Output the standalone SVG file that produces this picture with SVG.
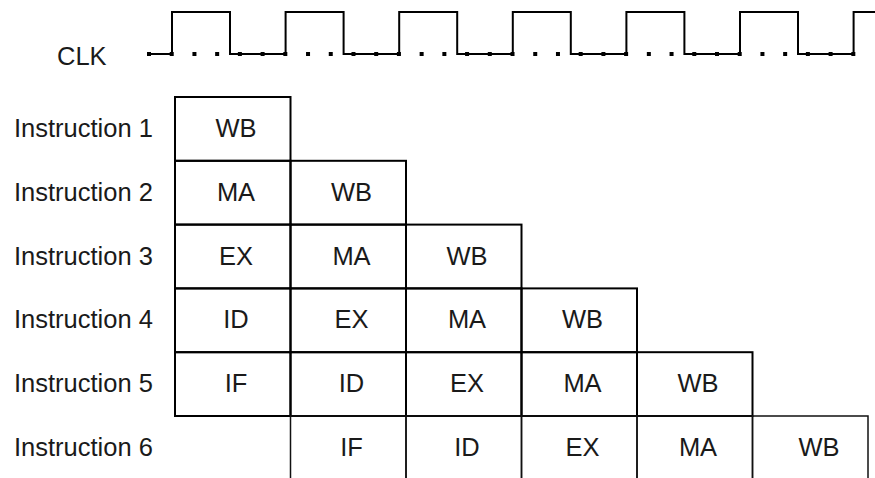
<svg xmlns="http://www.w3.org/2000/svg" width="875" height="478" viewBox="0 0 875 478">
<style>
text{font-family:"Liberation Sans",Arial,sans-serif;font-size:25.5px;fill:#1a1a1a}
.c{text-anchor:middle}
.cell{fill:none;stroke:#000;stroke-width:2}
.open{fill:none;stroke:#111;stroke-width:1.5}
.clk{fill:none;stroke:#000;stroke-width:2}
</style>
<rect width="875" height="478" fill="#fff"/>
<g id="clock">
<text x="57" y="65">CLK</text>
<line x1="147" y1="54" x2="856" y2="54" stroke="#000" stroke-width="4" stroke-dasharray="4 18.72"/>
<path class="clk" d="M149,54H172V12H230V54H285.6V12H343.6V54H399.2V12H457.2V54H512.8V12H570.8V54H626.4V12H684.4V54H740V12H798V54H853.6V12H876"/>
</g>
<g id="instr1">
<text x="14" y="137">Instruction 1</text>
<rect class="cell" x="175" y="97" width="115.5" height="63.8"/>
<text class="c" x="236" y="137">WB</text>
</g>
<g id="instr2">
<text x="14" y="200.8">Instruction 2</text>
<rect class="cell" x="175" y="160.8" width="115.5" height="63.8"/>
<rect class="cell" x="290.5" y="160.8" width="115.5" height="63.8"/>
<text class="c" x="236" y="200.8">MA</text>
<text class="c" x="351.5" y="200.8">WB</text>
</g>
<g id="instr3">
<text x="14" y="264.6">Instruction 3</text>
<rect class="cell" x="175" y="224.6" width="115.5" height="63.8"/>
<rect class="cell" x="290.5" y="224.6" width="115.5" height="63.8"/>
<rect class="cell" x="406" y="224.6" width="115.5" height="63.8"/>
<text class="c" x="236" y="264.6">EX</text>
<text class="c" x="351.5" y="264.6">MA</text>
<text class="c" x="467" y="264.6">WB</text>
</g>
<g id="instr4">
<text x="14" y="328.4">Instruction 4</text>
<rect class="cell" x="175" y="288.4" width="115.5" height="63.8"/>
<rect class="cell" x="290.5" y="288.4" width="115.5" height="63.8"/>
<rect class="cell" x="406" y="288.4" width="115.5" height="63.8"/>
<rect class="cell" x="521.5" y="288.4" width="115.5" height="63.8"/>
<text class="c" x="236" y="328.4">ID</text>
<text class="c" x="351.5" y="328.4">EX</text>
<text class="c" x="467" y="328.4">MA</text>
<text class="c" x="582.5" y="328.4">WB</text>
</g>
<g id="instr5">
<text x="14" y="392.2">Instruction 5</text>
<rect class="cell" x="175" y="352.2" width="115.5" height="63.8"/>
<rect class="cell" x="290.5" y="352.2" width="115.5" height="63.8"/>
<rect class="cell" x="406" y="352.2" width="115.5" height="63.8"/>
<rect class="cell" x="521.5" y="352.2" width="115.5" height="63.8"/>
<rect class="cell" x="637" y="352.2" width="115.5" height="63.8"/>
<text class="c" x="236" y="392.2">IF</text>
<text class="c" x="351.5" y="392.2">ID</text>
<text class="c" x="467" y="392.2">EX</text>
<text class="c" x="582.5" y="392.2">MA</text>
<text class="c" x="698" y="392.2">WB</text>
</g>
<g id="instr6">
<text x="14" y="456">Instruction 6</text>
<rect class="open" x="290.5" y="416" width="115.5" height="80"/>
<rect class="open" x="406" y="416" width="115.5" height="80"/>
<rect class="open" x="521.5" y="416" width="115.5" height="80"/>
<rect class="open" x="637" y="416" width="115.5" height="80"/>
<rect class="open" x="752.5" y="416" width="115.5" height="80"/>
<text class="c" x="351.5" y="456">IF</text>
<text class="c" x="467" y="456">ID</text>
<text class="c" x="582.5" y="456">EX</text>
<text class="c" x="698" y="456">MA</text>
<text class="c" x="819" y="456">WB</text>
</g>
</svg>
